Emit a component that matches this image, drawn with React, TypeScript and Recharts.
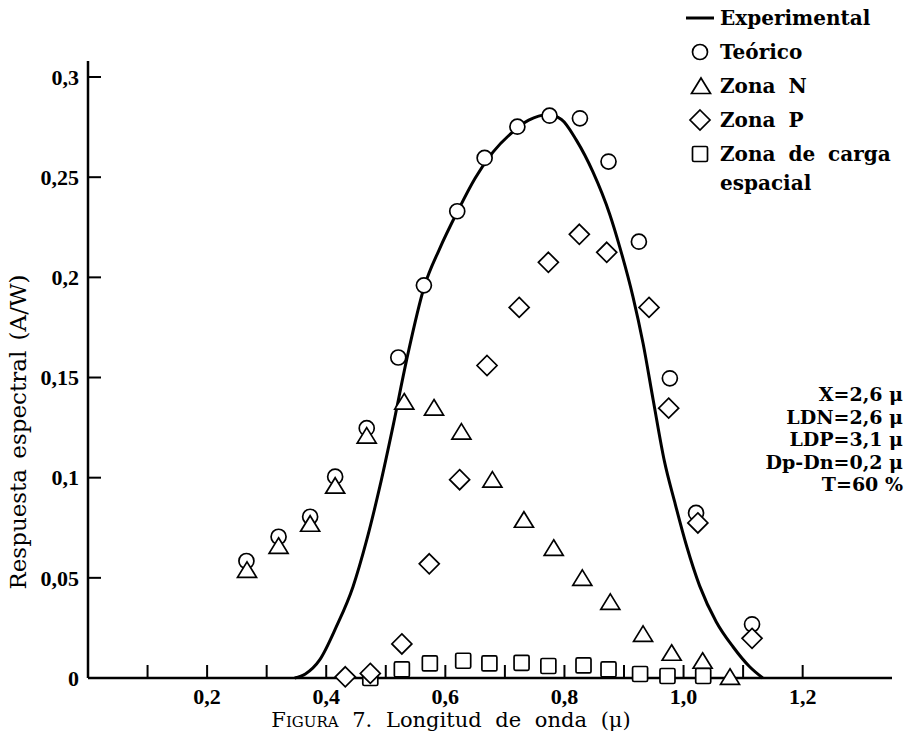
import { ComposedChart, Line, Scatter, XAxis, YAxis } from "recharts";

// Experimental curve (wavelength in µ, response in A/W)
const expX = [0.347, 0.365, 0.389, 0.417, 0.445, 0.468, 0.49, 0.512, 0.535, 0.565, 0.59, 0.621, 0.65, 0.68, 0.71, 0.74, 0.772, 0.795, 0.82, 0.848, 0.876, 0.893, 0.915, 0.932, 0.949, 0.968, 0.985, 1.005, 1.027, 1.055, 1.083, 1.111, 1.133];
const expY = [0, 0.002, 0.009, 0.0256, 0.0456, 0.0689, 0.0955, 0.1255, 0.1588, 0.1957, 0.214, 0.2332, 0.2495, 0.2625, 0.2718, 0.2785, 0.2812, 0.2788, 0.2685, 0.2525, 0.2315, 0.215, 0.1904, 0.1671, 0.1388, 0.108, 0.088, 0.066, 0.046, 0.028, 0.0156, 0.0056, 0];

const teoricoX = [0.266, 0.32, 0.373, 0.415, 0.468, 0.521, 0.564, 0.62, 0.666, 0.721, 0.775, 0.826, 0.874, 0.925, 0.977, 1.021, 1.115];
const teoricoY = [0.0584, 0.0705, 0.0805, 0.1005, 0.1247, 0.16, 0.196, 0.233, 0.2596, 0.2752, 0.2807, 0.2794, 0.2578, 0.2178, 0.1496, 0.0824, 0.0268];

const zonaNX = [0.267, 0.32, 0.373, 0.415, 0.468, 0.531, 0.581, 0.627, 0.679, 0.732, 0.782, 0.83, 0.877, 0.932, 0.98, 1.032, 1.078];
const zonaNY = [0.054, 0.066, 0.077, 0.096, 0.121, 0.138, 0.135, 0.123, 0.099, 0.079, 0.065, 0.05, 0.038, 0.022, 0.0126, 0.0086, 0.0006];

const zonaPX = [0.432, 0.474, 0.527, 0.573, 0.624, 0.67, 0.724, 0.773, 0.825, 0.871, 0.942, 0.975, 1.024, 1.115];
const zonaPY = [0.0006, 0.0023, 0.017, 0.057, 0.099, 0.156, 0.185, 0.2075, 0.2215, 0.2125, 0.185, 0.1347, 0.0774, 0.0198];

const cargaX = [0.474, 0.527, 0.574, 0.63, 0.674, 0.728, 0.773, 0.832, 0.874, 0.927, 0.973, 1.033];
const cargaY = [0, 0.0043, 0.0073, 0.0086, 0.0073, 0.0076, 0.006, 0.0063, 0.0043, 0.002, 0.001, 0.001];

const xTicks = [0.1, 0.2, 0.3, 0.4, 0.5, 0.6, 0.7, 0.8, 0.9, 1.0, 1.1, 1.2];
const xTickLabels = ["", "0,2", "", "0,4", "", "0,6", "", "0,8", "", "1,0", "", "1,2"];
const yTicks = [0, 0.05, 0.1, 0.15, 0.2, 0.25, 0.3];
const yTickLabels = ["0", "0,05", "0,1", "0,15", "0,2", "0,25", "0,3"];

const params = ["X=2,6 μ", "LDN=2,6 μ", "LDP=3,1 μ", "Dp-Dn=0,2 μ", "T=60 %"];

const zip = (xs: number[], ys: number[]) => xs.map((x, i) => ({ x, y: ys[i] }));

const expData = zip(expX, expY);
const teoricoData = zip(teoricoX, teoricoY);
const zonaNData = zip(zonaNX, zonaNY);
const zonaPData = zip(zonaPX, zonaPY);
const cargaData = zip(cargaX, cargaY);

const SERIF = "'DejaVu Serif', serif";
const TICK_FONT = "'Liberation Serif', serif";

function CircleMark({ cx, cy }: any) {
  return <circle cx={cx} cy={cy} r={7.5} fill="#fff" stroke="#000" strokeWidth={1.7} />;
}

function TriangleMark({ cx, cy }: any) {
  return (
    <path
      d={`M${cx},${cy - 8} L${cx + 9.5},${cy + 7.5} L${cx - 9.5},${cy + 7.5} Z`}
      fill="#fff"
      stroke="#000"
      strokeWidth={1.7}
    />
  );
}

function DiamondMark({ cx, cy }: any) {
  return (
    <path
      d={`M${cx},${cy - 10} L${cx + 10},${cy} L${cx},${cy + 10} L${cx - 10},${cy} Z`}
      fill="#fff"
      stroke="#000"
      strokeWidth={1.7}
    />
  );
}

function SquareMark({ cx, cy }: any) {
  return (
    <rect x={cx - 7.5} y={cy - 7.5} width={15} height={15} rx={1.5} fill="#fff" stroke="#000" strokeWidth={1.7} />
  );
}

function XTick({ x, y, index }: any) {
  const label = xTickLabels[index];
  return (
    <g>
      <line x1={x} y1={y} x2={x} y2={y - 13} stroke="#000" strokeWidth={2} />
      {label && (
        <text x={x} y={y + 26} textAnchor="middle" fontFamily={TICK_FONT} fontWeight="bold" fontSize={22} fill="#000">
          {label}
        </text>
      )}
    </g>
  );
}

function YTick({ x, y, index }: any) {
  return (
    <g>
      <line x1={x} y1={y} x2={x + 13} y2={y} stroke="#000" strokeWidth={2} />
      <text x={x - 9} y={y} dy="0.35em" textAnchor="end" fontFamily={TICK_FONT} fontWeight="bold" fontSize={22} fill="#000">
        {yTickLabels[index]}
      </text>
    </g>
  );
}

const legendItems = [
  { name: "Experimental", mark: "line" },
  { name: "Teórico", mark: "circle" },
  { name: "Zona N", mark: "triangle" },
  { name: "Zona P", mark: "diamond" },
  { name: "Zona de carga espacial", mark: "square" },
];

function LegendMark({ kind }: { kind: string }) {
  const c = 14;
  return (
    <svg width={30} height={28} style={{ flexShrink: 0 }}>
      {kind === "line" && <line x1={2} y1={c} x2={30} y2={c} stroke="#000" strokeWidth={3} />}
      {kind === "circle" && <CircleMark cx={16} cy={c} />}
      {kind === "triangle" && <TriangleMark cx={17} cy={c} />}
      {kind === "diamond" && <DiamondMark cx={16} cy={c} />}
      {kind === "square" && <SquareMark cx={16} cy={c} />}
    </svg>
  );
}

export default function App() {
  return (
    <div style={{ position: "absolute", left: 0, top: 0, width: 908, height: 748, background: "#fff" }}>
      <ComposedChart
        width={908}
        height={748}
        margin={{ top: 61, right: 16, bottom: 40, left: 58 }}
      >
        <XAxis
          type="number"
          dataKey="x"
          domain={[0, 1.35]}
          ticks={xTicks}
          interval={0}
          height={30}
          tickSize={0}
          tickMargin={0}
          axisLine={{ stroke: "#000", strokeWidth: 2.5 }}
          tickLine={false}
          tick={<XTick />}
          label={(props: any) => {
            const vb = props.viewBox;
            return (
              <text
                x={vb.x + vb.width / 2 - 39}
                y={727}
                textAnchor="middle"
                fontFamily={SERIF}
                fontSize={21}
                fill="#000"
                style={{ wordSpacing: 7 }}
              >
                <tspan>F</tspan>
                <tspan fontSize={15}>IGURA</tspan>
                <tspan> 7.  Longitud de onda (μ)</tspan>
              </text>
            );
          }}
        />
        <YAxis
          type="number"
          dataKey="y"
          domain={[0, 0.308]}
          ticks={yTicks}
          interval={0}
          width={30}
          tickSize={0}
          tickMargin={0}
          axisLine={{ stroke: "#000", strokeWidth: 2.5 }}
          tickLine={false}
          tick={<YTick />}
          label={() => (
            <text
              x={18}
              y={432}
              transform="rotate(-90 18 432)"
              textAnchor="middle"
              dominantBaseline="central"
              fontFamily={SERIF}
              fontSize={23}
              fill="#000"
              style={{ wordSpacing: 3 }}
            >
              Respuesta espectral (A/W)
            </text>
          )}
        />
        <Line
          data={expData}
          dataKey="y"
          type="monotone"
          stroke="#000"
          strokeWidth={3}
          dot={false}
          activeDot={false}
          isAnimationActive={false}
        />
        <Scatter data={teoricoData} dataKey="y" shape={CircleMark} isAnimationActive={false} />
        <Scatter data={zonaNData} dataKey="y" shape={TriangleMark} isAnimationActive={false} />
        <Scatter data={cargaData} dataKey="y" shape={SquareMark} isAnimationActive={false} />
        <Scatter data={zonaPData} dataKey="y" shape={DiamondMark} isAnimationActive={false} />
      </ComposedChart>

      <div
        style={{
          position: "absolute",
          left: 684,
          top: 1,
          fontFamily: SERIF,
          fontWeight: "bold",
          fontSize: 20,
          lineHeight: "34px",
          color: "#000",
        }}
      >
        {legendItems.map((item) => (
          <div key={item.name} style={{ display: "flex", alignItems: "flex-start", gap: 6 }}>
            <div style={{ height: 34, display: "flex", alignItems: "center" }}>
              <LegendMark kind={item.mark} />
            </div>
            <span style={{ wordSpacing: 6, width: item.mark === "square" ? 190 : "auto", lineHeight: item.mark === "square" ? "29px" : "34px", paddingTop: item.mark === "square" ? 3 : 0 }}>
              {item.name}
            </span>
          </div>
        ))}
      </div>

      <div
        style={{
          position: "absolute",
          right: 5,
          top: 383,
          textAlign: "right",
          fontFamily: SERIF,
          fontWeight: "bold",
          fontSize: 19,
          lineHeight: "22.5px",
          color: "#000",
        }}
      >
        {params.map((p) => (
          <div key={p}>{p}</div>
        ))}
      </div>
    </div>
  );
}
